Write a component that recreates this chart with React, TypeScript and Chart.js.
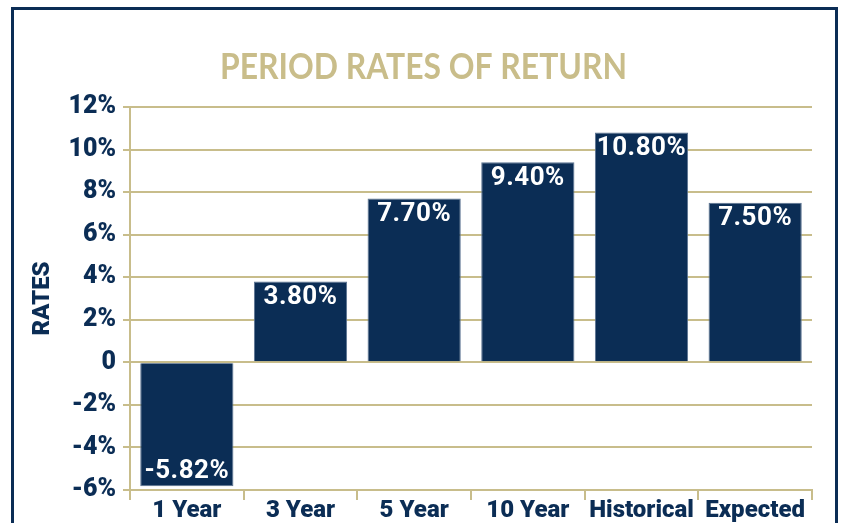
import React, { useEffect, useRef } from "react";
import { Chart, registerables } from "chart.js";

Chart.register(...registerables);

const categories = ["1 Year", "3 Year", "5 Year", "10 Year", "Historical", "Expected"];
const rates = [-5.82, 3.8, 7.7, 9.4, 10.8, 7.5];
const rateLabels = ["-5.82%", "3.80%", "7.70%", "9.40%", "10.80%", "7.50%"];
const yMin = -6;
const yMax = 12;
const yStep = 2;
const titleText = "PERIOD RATES OF RETURN";
const yTitle = "RATES";

const NAVY = "#0b2d55";
const GOLD = "#c8bd8b";
const TITLE_GOLD = "#c9bd8a";
const SANS = 'Roboto, "Liberation Sans", sans-serif';

const titlePlugin = {
  id: "customTitle",
  afterDraw(chart: any) {
    const ctx = chart.ctx;
    ctx.save();
    ctx.font = `bold 36px Lato, "Open Sans", sans-serif`;
    ctx.fillStyle = TITLE_GOLD;
    ctx.textAlign = "center";
    ctx.textBaseline = "alphabetic";
    const w = ctx.measureText(titleText).width;
    const sx = 407 / w;
    ctx.translate(chart.width / 2 + 3, 79);
    ctx.scale(sx, 1);
    ctx.fillText(titleText, 0, 0);
    ctx.restore();
  },
};

const valueLabelPlugin = {
  id: "valueLabels",
  afterDatasetsDraw(chart: any) {
    const ctx = chart.ctx;
    const meta = chart.getDatasetMeta(0);
    ctx.save();
    ctx.font = `bold 26px ${SANS}`;
    ctx.fillStyle = "#ffffff";
    ctx.textAlign = "center";
    ctx.textBaseline = "alphabetic";
    try { (ctx as any).letterSpacing = "0.5px"; } catch (e) {}
    meta.data.forEach((bar: any, i: number) => {
      const v = rates[i];
      const y = v >= 0 ? bar.y + 22.5 : bar.y - 8;
      ctx.fillText(rateLabels[i], bar.x, y);
    });
    ctx.restore();
  },
};

export default function App() {
  const ref = useRef<HTMLCanvasElement | null>(null);

  useEffect(() => {
    if (!ref.current) return;
    const chart = new Chart(ref.current, {
      type: "bar",
      data: {
        labels: categories,
        datasets: [
          {
            data: rates,
            backgroundColor: NAVY,
            borderColor: "#5b7391",
            borderWidth: 1,
            barPercentage: 0.82,
            categoryPercentage: 1,
          },
        ],
      },
      options: {
        animation: false,
        responsive: false,
        layout: { padding: { left: 0, right: 29, top: 107, bottom: 0 } },
        plugins: {
          legend: { display: false },
          tooltip: { enabled: false },
          title: { display: false },
        },
        scales: {
          x: {
            grid: {
              offset: true,
              drawOnChartArea: false,
              drawTicks: true,
              tickLength: 10,
              color: GOLD,
              lineWidth: 2,
            },
            border: { display: true, color: GOLD, width: 2 },
            ticks: {
              color: NAVY,
              font: { family: SANS, size: 24, weight: "900" as any },
              padding: -3,
              maxRotation: 0,
              autoSkip: false,
            },
            afterFit(scale: any) {
              scale.height = 33;
            },
          },
          y: {
            min: yMin,
            max: yMax,
            ticks: {
              stepSize: yStep,
              color: NAVY,
              font: { family: SANS, size: 25, weight: "900" as any },
              padding: 7,
              callback: (v: any) => (Number(v) === 0 ? "0" : `${v}%`),
            },
            grid: {
              color: GOLD,
              lineWidth: 2,
              tickLength: 7,
            },
            border: { display: true, color: GOLD, width: 2 },
            title: {
              display: true,
              text: yTitle,
              color: NAVY,
              font: { family: SANS, size: 24, weight: "900" as any },
              padding: { top: 29, bottom: 0 },
            },
            afterFit(scale: any) {
              scale.width = 130;
            },
          },
        },
      },
      plugins: [valueLabelPlugin, titlePlugin],
    });
    return () => chart.destroy();
  }, []);

  return (
    <div style={{ position: "fixed", left: 0, top: 0, width: 841, height: 523, background: "#fff", overflow: "hidden" }}>
      <div
        style={{
          position: "absolute",
          left: 11,
          top: 7,
          width: 827,
          height: 600,
          border: `3px solid ${NAVY}`,
          boxSizing: "border-box",
        }}
      />
      <canvas ref={ref} width={841} height={523} style={{ position: "absolute", left: 0, top: 0, display: "block" }} />
    </div>
  );
}
